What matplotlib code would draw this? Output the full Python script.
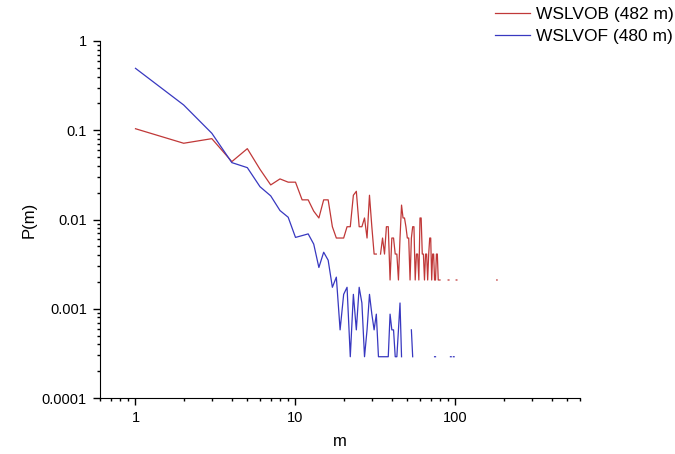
import numpy as np
import matplotlib
matplotlib.use("Agg")
import matplotlib.pyplot as plt
from matplotlib.ticker import LogLocator, NullFormatter

plt.rcParams['font.family'] = ['Liberation Sans', 'DejaVu Sans']

nan = np.nan

# WSLVOB (red): m = 1..80, then a few isolated points in the tail
m_vob = list(range(1, 81)) + [85, 90, 91, 95, 101, 102, 150, 181, 182]
p_vob = [0.104, 0.0715, 0.0805, 0.0445, 0.0622, 0.0365, 0.0244, 0.0285, 0.0262, 0.0262,
         0.0166, 0.0166, 0.0124, 0.0104, 0.0166, 0.0166, 0.0083, 0.0062, 0.0062, 0.0062,
         0.0083, 0.0083, 0.0187, 0.0207, 0.0083, 0.0083, 0.0104, 0.0062, 0.0187, 0.0083,
         0.0041, 0.0041, nan, 0.0041, 0.0062, 0.0041, 0.0083, 0.0083, 0.0021, 0.0062,
         0.0062, 0.0041, 0.0041, 0.0021, 0.0062, 0.0145, 0.0104, 0.0104, 0.0083, 0.0062,
         0.0062, 0.0021, 0.0062, 0.0083, 0.0083, 0.0021, 0.0041, 0.0041, 0.0021, 0.0104,
         0.0104, 0.0041, 0.0041, 0.0021, 0.0041, 0.0041, 0.0021, 0.0041, 0.0062, 0.0062,
         0.0021, 0.0041, 0.0041, 0.0021, 0.0021, 0.0041, 0.0041, 0.0021, 0.0021, 0.0021,
         nan, 0.0021, 0.0021, nan, 0.0021, 0.0021, nan, 0.0021, 0.0021]

# WSLVOF (blue)
m_vof = list(range(1, 55)) + [60, 74, 75, 85, 93, 94, 96, 97, 98]
p_vof = [0.494, 0.192, 0.0925, 0.0434, 0.0381, 0.0233, 0.0184, 0.0126, 0.0106, 0.0063,
         0.0066, 0.0069, 0.0053, 0.0029, 0.0043, 0.0035, 0.00174, 0.00226, 0.00058, 0.00145,
         0.00174, 0.00029, 0.00145, 0.00058, 0.00174, 0.00116, 0.00029, 0.00058, 0.00145, 0.00087,
         0.00058, 0.00087, 0.00029, 0.00029, 0.00029, 0.00029, 0.00029, 0.00029, 0.00087, 0.00058,
         0.00058, 0.00029, 0.00029, 0.00058, 0.00116, 0.00029, nan, nan, nan, nan,
         nan, nan, 0.00058, 0.00029,
         nan, 0.00029, 0.00029, nan, 0.00029, 0.00029, nan, 0.00029, 0.00029]

x_ticks = [1, 10, 100]
x_labels = ['1', '10', '100']
y_ticks = [0.0001, 0.001, 0.01, 0.1, 1]
y_labels = ['0.0001', '0.001', '0.01', '0.1', '1']

fig = plt.figure(figsize=(6.75, 4.54), dpi=100)
ax = fig.add_axes([100/675, 1-398/454, 480/675, 357/454])

ax.plot(m_vob, p_vob, color='#c03838', lw=0.9, label='WSLVOB (482 m)')
ax.plot(m_vof, p_vof, color='#3838c0', lw=0.9, label='WSLVOF (480 m)')

ax.set_xscale('log')
ax.set_yscale('log')
ax.set_xlim(0.6, 600)
ax.set_ylim(1e-4, 1)

ax.spines['top'].set_visible(False)
ax.spines['right'].set_visible(False)

ax.set_xticks(x_ticks)
ax.set_xticklabels(x_labels)
ax.set_yticks(y_ticks)
ax.set_yticklabels(y_labels)
ax.xaxis.set_minor_locator(LogLocator(base=10, subs=np.arange(2, 10) * 1.0, numticks=20))
ax.yaxis.set_minor_locator(LogLocator(base=10, subs=np.arange(2, 10) * 1.0, numticks=20))
ax.xaxis.set_minor_formatter(NullFormatter())
ax.yaxis.set_minor_formatter(NullFormatter())
ax.tick_params(which='major', length=5, width=1, labelsize=10.5, direction='out', pad=4.5)
ax.tick_params(which='minor', length=2.5, width=1, direction='out')

ax.set_xlabel('m', fontsize=12, labelpad=6)
ax.set_ylabel('P(m)', fontsize=12)

fig.legend(loc='upper left', bbox_to_anchor=(495/675, 1-7/454), frameon=False,
           fontsize=12.5, handlelength=2.0, handletextpad=0.35, labelspacing=0.38,
           borderpad=0, borderaxespad=0)

fig.savefig('out.png', dpi=100)
